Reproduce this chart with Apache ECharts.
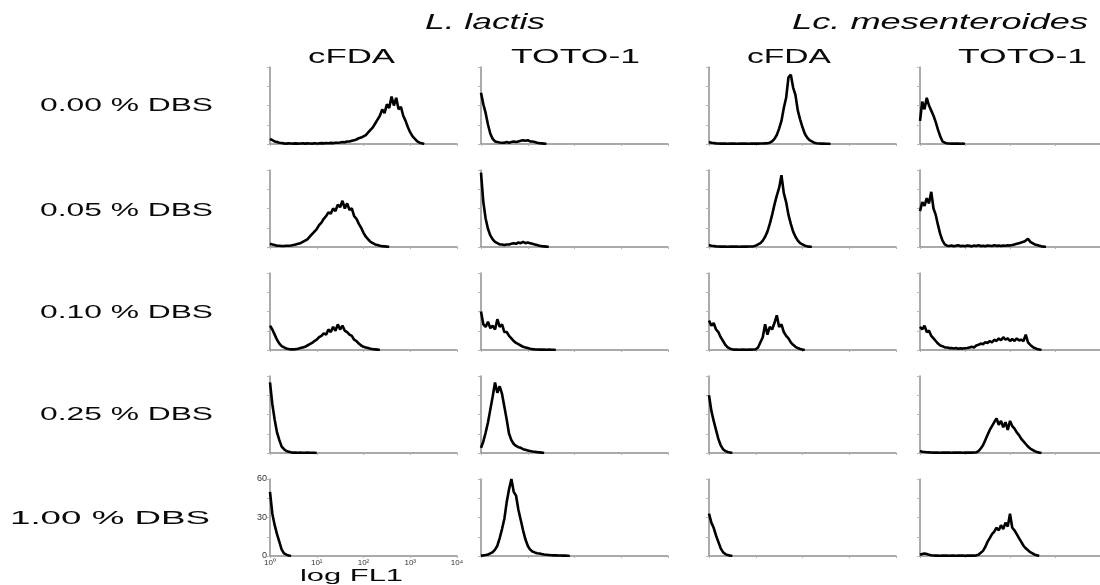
<!DOCTYPE html>
<html><head><meta charset="utf-8">
<script src="https://cdn.jsdelivr.net/npm/echarts@6/dist/echarts.min.js"></script>
<style>html,body{margin:0;padding:0;background:#fff}#chart{width:1100px;height:585px}</style>
</head><body><div id="chart"></div>
<script>
// ---------- DATA ----------
const concentrations = ['0.00 % DBS', '0.05 % DBS', '0.10 % DBS', '0.25 % DBS', '1.00 % DBS'];
const speciesNames = ['L. lactis', 'Lc. mesenteroides'];
const stainNames = ['cFDA', 'TOTO-1', 'cFDA', 'TOTO-1'];
const xTickLabels = ['10⁰', '10¹', '10²', '10³', '10⁴'];
const yTickLabels = ['0', '30', '60'];
const xAxisTitle = 'log FL1';
const channelStep = 0.05; // decades per histogram channel (log FL1)

// 0.00 % DBS
const llCfda000 = [4,3,2,1.5,1,0.8, 0.5,0.3,0.6,0.4,0.3,0.5,0.3,0.4,0.6,0.3,0.5,0.4,0.3,0.6,0.4,0.5,0.7,0.5,0.8,0.6,0.9,0.7,1,
  1,1.2,1.5,1.4,2,2,2.5,3,3.5,4.5, 5,6,7,9,11,13,16,19,22,27, 24,31,28,37,30,36,27,29,22,18, 13,9,6,4,2,1,0.5,0];
const llToto000 = [40,31,24,15,8,4,2,1.5,1.2,1,1,1.5,1,1.5,2,1.5,2,2.5,3,2.5,3,2,2,1.5,1,0.7,0.5,0.3,0];
const lmCfda000 = [1.5,1,0.8,0.5,0.4, 0.3,0.4,0.3,0.2,0.3,0.4,0.3,0.2,0.3,0.3,0.4,0.3,0.2,0.3,0.4,0.3,0.3,0.4,0.4,0.5,
  0.6,1,2,4,7,12,18,28,36,52,54,44,38,26,19,13,8,5,3,2,1,0.6,0.4,0.3,0.3,0.2,0.2,0];
const lmToto000 = [18,33,27,36,30,26,22,17,11,6,2,1,0.5,0.4,0.3,0.3,0.4,0.3,0.2,0.3,0];

// 0.05 % DBS
const llCfda005 = [2.5,2,1.5,1,1,0.8,0.8,1,1,1.2,1.5,2,2.5,3,4,5,6,8,10,12,14,17,19,22,24,27,26,30,28,33,31,36,30,34,29,30,24,22,18,15,11,8,6,4,3,2,1.5,1,0.7,0.5,0.3,0];
const llToto005 = [58,35,22,14,9,6,4,3,2,2,1.5,2,2,2.5,3,2.5,3.5,3,4,3,3.5,3,2.5,2,1.5,1,0.7,0.5,0.3,0];
const lmCfda005 = [1.5,1,0.8,0.5,0.4, 0.3,0.4,0.3,0.2,0.3,0.4,0.3,0.3,0.2,0.3,0.4,0.3,0.4,0.4,
  0.5,1,2,3,5,8,12,18,25,33,40,46,56,42,35,25,18,12,8,5,3,2,1,0.5,0.3,0];
const lmToto005 = [28,35,32,38,34,43,30,25,17,10,5,2,1,
  0.8,1.2,0.6,1,1.4,0.7,1,0.6,1.2,0.9,0.5,1.1,0.8,1.3,0.7,1,0.6,1.2,1,0.8,1.3,0.9,1.1,0.7,1.2,1,1.4,1.2,
  1.5,2,2.5,3,3.5,4,5,6.5,4,3,2,1.5,1,0.5,0.3,0];

// 0.10 % DBS
const llCfda010 = [19,16,12,8,5,3,2,1.2,0.8,0.5,0.5,0.7,1,1.5,2,2.5,3.5,4.5,5.5,7,8,10,11,13,12,16,14,18,15,20,16,19,15,14,12,11,8,7,5,3.5,2.5,2,1.5,1,0.7,0.5,0.3,0];
const llToto010 = [30,20,18,22,17,19,16,24,18,20,14,14,11,9,7,5.5,4.5,3.5,2.5,2,1.5,1,0.7,0.5,0.4,0.3,0.4,0.3,0.2,0.3,0.2,0.2,0];
const lmCfda010 = [23,19,21,16,14,10,7,4,2,1,0.5,0.3,0.3,0.2,0.3,0.3,0.2,0.3,0.3,0.4,0.5,2,6,10,20,12,18,16,21,27,18,20,14,11,9,6,4,2.5,1.5,0.8,0.3,0];
const lmToto010 = [18,16,19,14,15,11,9,7,5,3.5,3,2,2,1.5,1.5,1.2,1.5,1,1.3,1.1,1.4,1.5,2,2.5,2,3.5,4,5,4.5,6,5.5,7,6,8,7,9,7.5,10,8,9,7,8.5,7,9,7.5,8,7,12,6,4,2.5,1.5,0.8,0.4,0];

// 0.25 % DBS
const llCfda025 = [55,38,26,16,10,5,3,1.5,1,0.5,0.3,0.3,0.2,0.3,0.2,0.2,0.3,0.2,0.2,0.1,0];
const llToto025 = [4,9,16,24,34,44,55,47,52,46,36,26,15,10,7,5.5,4.5,4,3,2.5,2,1.5,1.2,1,0.7,0.5,0.3,0];
const lmCfda025 = [45,33,25,18,11,6,3,1.5,0.8,0.4,0];
const lmToto025 = [1.5,1,0.8,0.6,0.5,0.4, 0.3,0.4,0.3,0.2,0.3,0.3,0.4,0.3,0.2,0.3,0.4,0.3,0.3,0.2,0.3,0.4,0.3,0.3,0.4,
  0.5,1.5,3.5,6,10,14,18,21,24,27,22,25,20,24,18,25,21,19,16,14,11,9,7,5,3.5,2.5,1.5,0.7,0.3,0];

// 1.00 % DBS
const llCfda100 = [50,33,24,17,11,5,2,1,0.4,0];
const llToto100 = [0.3,0.5,0.8,1.2,2,3,5,8,14,21,29,42,52,60,50,47,36,28,20,13,8,5,3.5,2.8,2.2,2,1.5,1.2,1,0.8,0.6,0.5,0.5,0.4,0.4,0.3,0.3,0.2,0];
const lmCfda100 = [33,26,22,16,11,6,3,1.5,0.7,0.3,0];
const lmToto100 = [1,1.5,2,1.5,1,0.6, 0.4,0.3,0.3,0.2,0.3,0.4,0.3,0.2,0.3,0.3,0.2,0.3,0.4,0.3,0.2,0.3,0.3,0.4,0.3,
  0.5,1,2.5,4,7,11,14,17,19,22,20,24,21,26,23,33,22,20,17,14,11,8,6,4.5,3,2,1,0.5,0];

const histograms = [
  [llCfda000, llToto000, lmCfda000, lmToto000],
  [llCfda005, llToto005, lmCfda005, lmToto005],
  [llCfda010, llToto010, lmCfda010, lmToto010],
  [llCfda025, llToto025, lmCfda025, lmToto025],
  [llCfda100, llToto100, lmCfda100, lmToto100]
];

// ---------- LAYOUT ----------
const colLeft = [270, 481, 709, 920];
const rowTop = [67, 170, 273, 376, 479];
const panelW = 187, panelH = 77;
const FONT = '"Liberation Sans", Arial, Helvetica, sans-serif';

const chart = echarts.init(document.getElementById('chart'), null, {renderer: 'canvas'});
const grids = [], xAxes = [], yAxes = [], series = [];
histograms.forEach((row, r) => {
  row.forEach((counts, c) => {
    const i = grids.length;
    const labelled = (r === 4 && c === 0);
    grids.push({left: colLeft[c], top: rowTop[r], width: panelW, height: panelH, containLabel: false});
    xAxes.push({
      gridIndex: i, type: 'value', min: 0, max: 4, interval: 1,
      axisLine: {show: true, onZero: false, lineStyle: {color: '#8f8f8f', width: 1.5}},
      axisTick: {show: true, length: 2, lineStyle: {color: '#b0b0b0'}},
      splitLine: {show: false},
      axisLabel: {show: labelled, fontSize: 8, color: '#333', margin: 3, fontFamily: FONT,
        formatter: v => xTickLabels[Math.round(v)] || ''}
    });
    yAxes.push({
      gridIndex: i, type: 'value', min: 0, max: 60, interval: 15,
      axisLine: {show: true, onZero: false, lineStyle: {color: '#8f8f8f', width: 1.5}},
      axisTick: {show: true, length: 3, lineStyle: {color: '#b8b8b8'}},
      splitLine: {show: false},
      axisLabel: {show: labelled, fontSize: 9, color: '#333', margin: 3, fontFamily: FONT, showMaxLabel: true, showMinLabel: true,
        formatter: v => yTickLabels.includes(String(v)) ? String(v) : ''}
    });
    series.push({
      type: 'line', xAxisIndex: i, yAxisIndex: i, symbol: 'none', showSymbol: false,
      data: counts.map((v, k) => [k * channelStep, v]),
      lineStyle: {color: '#000', width: 2.6}, clip: true, silent: true, animation: false
    });
  });
});

// stretched real text (the reference figure is horizontally stretched)
const mctx = document.createElement('canvas').getContext('2d');
function stretched(str, left, right, cy, size, italic) {
  const font = (italic ? 'italic ' : '') + size + 'px ' + FONT;
  mctx.font = font;
  const w = mctx.measureText(str).width;
  return {type: 'text', x: left, y: cy, scaleX: (right - left) / w, silent: true,
    style: {text: str, font: font, fill: '#0a0a0a', align: 'left', verticalAlign: 'middle'}};
}
const graphics = [];
graphics.push(stretched(speciesNames[0], 425, 545, 23, 22, true));
graphics.push(stretched(speciesNames[1], 792, 1088, 23, 22, true));
const stainSpans = [[308, 395], [511, 640], [747, 831], [958, 1087]];
stainNames.forEach((s, c) => graphics.push(stretched(s, stainSpans[c][0], stainSpans[c][1], 57, 20, false)));
const rowSpans = [[40, 213, 106], [40, 213, 211], [40, 213, 313], [40, 213, 415], [10, 210, 519]];
concentrations.forEach((s, r) => graphics.push(stretched(s, rowSpans[r][0], rowSpans[r][1], rowSpans[r][2], 19, false)));
graphics.push(stretched(xAxisTitle, 300, 403, 576, 17, false));

chart.setOption({
  backgroundColor: '#fff',
  animation: false,
  grid: grids, xAxis: xAxes, yAxis: yAxes, series: series,
  graphic: graphics
});
</script></body></html>
